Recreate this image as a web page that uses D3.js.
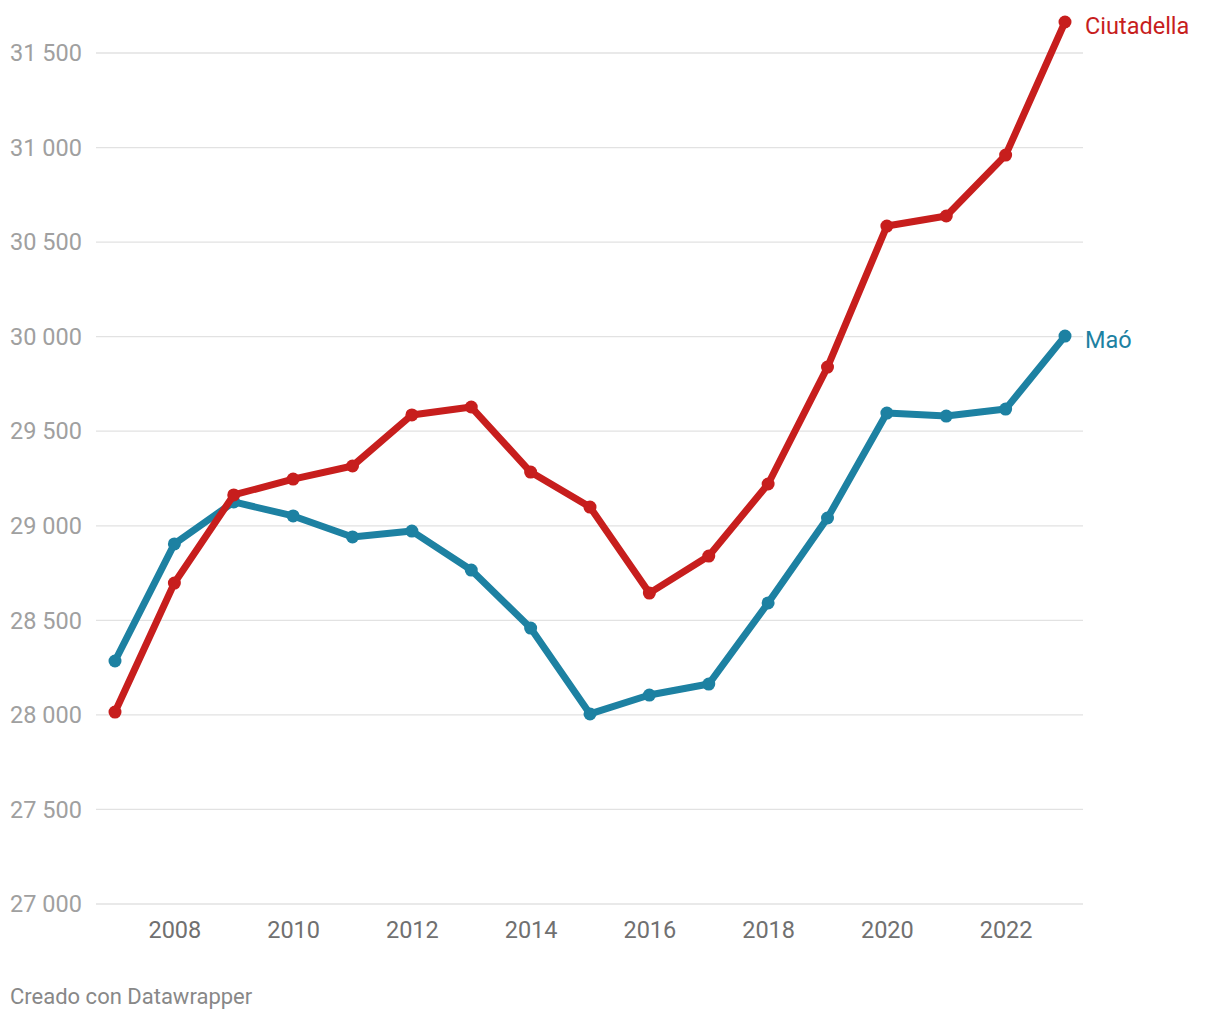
<!DOCTYPE html>
<html><head><meta charset="utf-8">
<script src="https://cdn.jsdelivr.net/npm/d3@7"></script>
<style>
html,body{margin:0;padding:0;background:#fff;}
svg{display:block;font-family:Roboto,"Noto Sans",sans-serif;}
</style></head>
<body><svg id="c" width="1220" height="1020"></svg>
<script>
const years = [2007,2008,2009,2010,2011,2012,2013,2014,2015,2016,2017,2018,2019,2020,2021,2022,2023];
const ciutadella = [28015,28697,29163,29247,29316,29586,29628,29284,29099,28644,28840,29221,29839,30585,30638,30960,31664];
const mao = [28285,28904,29126,29052,28941,28972,28766,28459,28005,28105,28163,28592,29041,29596,29580,29617,30003];
const yTicks = [27000,27500,28000,28500,29000,29500,30000,30500,31000,31500];
const xTicks = [2008,2010,2012,2014,2016,2018,2020,2022];
const seriesNames = ["Ciutadella","Maó"];
const seriesColors = ["#c71e1d","#1d81a2"];

const svg = d3.select("#c");
const x = d3.scaleLinear().domain([2007,2023]).range([115,1065]);
const y = d3.scaleLinear().domain([27000,31500]).range([904,53]);
const fmt = v => d3.format(",")(v).replace(/,/g," ");

// gridlines
const g = svg.append("g");
g.selectAll("line.grid").data(yTicks).enter().append("line")
  .attr("x1",96).attr("x2",1083)
  .attr("y1",d=>y(d)).attr("y2",d=>y(d))
  .attr("stroke","#e2e2e2").attr("stroke-width",1.3);
g.selectAll("text.yl").data(yTicks).enter().append("text")
  .attr("x",10).attr("y",d=>y(d)).attr("dy","0.35em")
  .attr("font-size",23.5).attr("fill","#a0a0a0").text(fmt);

// x axis labels
svg.append("g").attr("transform","translate(0,904)")
  .call(d3.axisBottom(x).tickValues(xTicks).tickFormat(d3.format("d")).tickSize(0).tickPadding(0))
  .call(a=>a.select(".domain").remove())
  .call(a=>a.selectAll("text").attr("y",26).attr("dy","0.35em").attr("font-size",23.5).attr("fill","#707070").attr("font-family","Roboto,sans-serif"));

const series = [ciutadella, mao];
const line = d3.line().x((d,i)=>x(years[i])).y(d=>y(d));
[1,0].forEach(k=>{
  const vals = series[k];
  svg.append("path").datum(vals).attr("d",line)
    .attr("fill","none").attr("stroke",seriesColors[k]).attr("stroke-width",7)
    .attr("stroke-linejoin","round").attr("stroke-linecap","round");
  svg.append("g").selectAll("circle").data(vals).enter().append("circle")
    .attr("cx",(d,i)=>x(years[i])).attr("cy",d=>y(d)).attr("r",6.5)
    .attr("fill",seriesColors[k]);
  svg.append("text").attr("x",x(years[years.length-1])+20)
    .attr("y",y(vals[vals.length-1])+4).attr("dy","0.35em")
    .attr("font-size",23.5).attr("fill",seriesColors[k]).text(seriesNames[k]);
});

svg.append("text").attr("x",10).attr("y",1004).attr("font-size",22)
  .attr("fill","#888").text("Creado con Datawrapper");
</script></body></html>
